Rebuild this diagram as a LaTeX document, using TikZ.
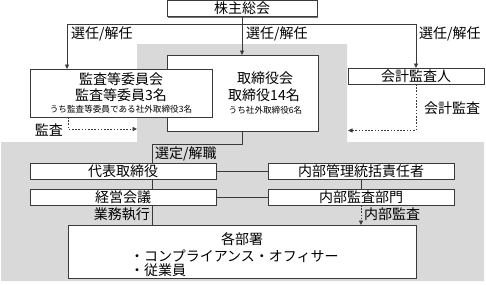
\documentclass[tikz,border=0pt]{standalone}
\usepackage{fontspec}
\setmainfont{Noto Sans CJK JP}
\usetikzlibrary{arrows.meta,shadows}
\definecolor{bggray}{HTML}{D9D9D9}
\definecolor{ln}{HTML}{3A3A3A}
\begin{document}
\begin{tikzpicture}[x=1pt,y=-1pt,
  box/.style={draw=ln, fill=white, line width=0.8pt, inner sep=0pt, outer sep=0pt,
    drop shadow={shadow xshift=1.3pt,shadow yshift=-1.3pt,fill=black!55,opacity=1}},
  conn/.style={draw=ln, line width=0.7pt},
  dconn/.style={draw=ln, line width=0.8pt, dash pattern=on 1.6pt off 1.6pt},
  tip/.style={-{Triangle[length=4.5pt,width=4pt]}},
  big/.style={font=\fontsize{14}{16}\selectfont},
  small/.style={font=\fontsize{8.6}{10}\selectfont},
  lbl/.style={inner sep=0pt, font=\fontsize{14}{16}\selectfont}]
\useasboundingbox (0,0) rectangle (486,284);
% gray background
\fill[bggray] (137,44) -- (347,44) -- (347,142) -- (484,142) -- (484,281) -- (1,281) -- (1,142) -- (137,142) -- cycle;

% boxes
\node[box, minimum width=150pt, minimum height=16pt, big] (kabu) at (242,8.5) {株主総会};
\node[box, minimum width=151pt, minimum height=76pt] (tori) at (242.5,93) {};
\node[box, minimum width=182pt, minimum height=48pt] (kansa) at (121,93) {};
\node[big] at (265,78) {取締役会};
\node[big] at (264,95) {取締役14名};
\node[small] at (265.5,110) {うち社外取締役6名};
\node[big] at (121,79) {監査等委員会};
\node[big] at (121,95) {監査等委員3名};
\node[small] at (121,109.5) {うち監査等委員である社外取締役3名};
\node[box, minimum width=136pt, minimum height=16pt, big] (kaikei) at (416,76) {会計監査人};

\node[box, minimum width=186pt, minimum height=16pt, big] (daihyo) at (123,171) {代表取締役};
\node[box, minimum width=186pt, minimum height=16pt, big] (keiei) at (123,197) {経営会議};
\node[box, minimum width=186pt, minimum height=16pt, big] (nkanri) at (361,171) {内部管理統括責任者};
\node[box, minimum width=186pt, minimum height=16pt, big] (nkansa) at (361,197) {内部監査部門};
\node[box, minimum width=348pt, minimum height=53pt] (kaku) at (242,251.5) {};
\node[big] at (242,239) {各部署};
\node[big, anchor=west, inner sep=0pt] at (130,256) {・コンプライアンス・オフィサー};
\node[big, anchor=west, inner sep=0pt] at (130,270) {・従業員};

% top connectors
\coordinate (lt) at (67,24);
\coordinate (rt) at (416,24);
\draw[conn] (lt) -- (rt);
\draw[conn,tip] (lt) -- (lt |- kansa.north);
\draw[conn,tip] (rt) -- (rt |- kaikei.north);
\draw[conn,tip] (kabu.south) -- (kabu.south |- tori.north);
\node[lbl, anchor=west] at (71,34) {選任/解任};
\node[lbl, anchor=west] at (246,34) {選任/解任};
\node[lbl, anchor=west] at (419,34) {選任/解任};

% audit dashed
\coordinate (kansaend) at (137,129);
\draw[dconn,tip] (kansa.south -| 68,0) |- (kansaend);
\node[lbl, anchor=east] at (63,130) {監査};
\coordinate (kaikeiend) at (348,130.5);
\draw[dconn,tip] (kaikei.south) |- (kaikeiend);
\node[lbl, anchor=west] at (424,108) {会計監査};

% selection
\coordinate (sel) at (152,144);
\draw[conn] (tori.south) -- (tori.south |- sel) -- (sel) -- (sel |- daihyo.north);
\node[lbl, anchor=west] at (155,154) {選定/解職};
\draw[conn] (daihyo.east) -- (nkanri.west);
\draw[conn] (keiei.east) -- (nkansa.west);
\draw[conn] (daihyo.south -| sel) -- (keiei.north -| sel);
\draw[conn] (keiei.south -| sel) -- (kaku.north -| sel);
\node[lbl, anchor=east] at (150,214.5) {業務執行};
\draw[conn] (nkanri.south) -- (nkansa.north);
\draw[dconn,tip] (nkansa.south) -- (nkansa.south |- kaku.north);
\node[lbl, anchor=west] at (364,214.5) {内部監査};
\end{tikzpicture}
\end{document}
